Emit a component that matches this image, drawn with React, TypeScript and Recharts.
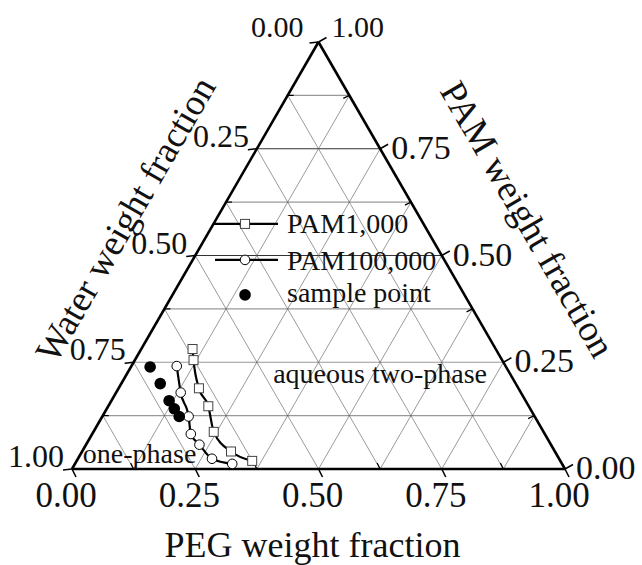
import React from "react";
import {
  ComposedChart,
  Line,
  Scatter,
  XAxis,
  YAxis,
  ReferenceLine,
  ReferenceDot,
} from "recharts";

// binodal data, read as (PEG, PAM) weight fractions; water = 1 - PEG - PAM
const pam1kPeg = [0.104, 0.119, 0.163, 0.203, 0.244, 0.302, 0.356];
const pam1kPam = [0.281, 0.255, 0.189, 0.147, 0.087, 0.041, 0.019];

const pam100kPeg = [0.092, 0.131, 0.175, 0.2, 0.23, 0.272, 0.319];
const pam100kPam = [0.241, 0.179, 0.123, 0.082, 0.057, 0.024, 0.012];

const samplePeg = [0.039, 0.079, 0.117, 0.137, 0.156];
const samplePam = [0.239, 0.2, 0.16, 0.141, 0.123];

const tickValues = [0, 0.25, 0.5, 0.75, 1];
const tickLabels = ["0.00", "0.25", "0.50", "0.75", "1.00"];
const gridValues = [0.125, 0.25, 0.375, 0.5, 0.625, 0.75, 0.875];
const minorValues = [0.125, 0.375, 0.625, 0.875];

const FONT = '"Liberation Serif", "Times New Roman", serif';

// ternary -> cartesian (x across base, y = PAM height)
const toXY = (peg: number, pam: number) => ({ x: peg + pam / 2, y: pam });

const pam1kData = pam1kPeg.map((p, i) => toXY(p, pam1kPam[i]));
const pam100kData = pam100kPeg.map((p, i) => toXY(p, pam100kPam[i]));
const sampleData = samplePeg.map((p, i) => toXY(p, samplePam[i]));

const bottomPt = (v: number) => toXY(v, 0);
const rightPt = (v: number) => toXY(1 - v, v);
const leftPt = (v: number) => toXY(0, 1 - v);

const textShape =
  (text: string, dx: number, dy: number, size: number, anchor: string, rotate?: number) =>
  (props: any) => {
    const x = props.cx + dx;
    const y = props.cy + dy;
    return (
      <text
        x={x}
        y={y}
        fontSize={size}
        fontFamily={FONT}
        textAnchor={anchor}
        fill="#111"
        transform={rotate ? `rotate(${rotate} ${x} ${y})` : undefined}
      >
        {text}
      </text>
    );
  };

const tickShape = (dx: number, dy: number, w = 1.5) => (props: any) => (
  <line
    x1={props.cx}
    y1={props.cy}
    x2={props.cx + dx}
    y2={props.cy + dy}
    stroke="#000"
    strokeWidth={w}
  />
);

const SquareDot = (props: any) => {
  const { cx, cy, index } = props;
  return (
    <rect
      key={`sq-${index}`}
      x={cx - 4.5}
      y={cy - 4.5}
      width={9}
      height={9}
      fill="#fff"
      stroke="#444"
      strokeWidth={1}
    />
  );
};

const CircleDot = (props: any) => {
  const { cx, cy, index } = props;
  return <circle key={`ci-${index}`} cx={cx} cy={cy} r={4.8} fill="#fff" stroke="#000" strokeWidth={1} />;
};

const FilledDot = (props: any) => <circle cx={props.cx} cy={props.cy} r={5.8} fill="#000" />;

const LegendShape = (props: any) => {
  const { cx, cy } = props;
  const t = { fontSize: 28, fontFamily: FONT, fill: "#111" } as const;
  return (
    <g>
      <line x1={cx - 32} y1={cy} x2={cx + 33} y2={cy} stroke="#000" strokeWidth={2.2} />
      <rect x={cx - 4.5} y={cy - 4.5} width={9} height={9} fill="#fff" stroke="#444" />
      <text x={cx + 42} y={cy + 9} {...t}>PAM1,000</text>
      <line x1={cx - 30} y1={cy + 36} x2={cx + 33} y2={cy + 36} stroke="#000" strokeWidth={2.2} />
      <circle cx={cx} cy={cy + 36} r={4.8} fill="#fff" stroke="#000" />
      <text x={cx + 42} y={cy + 46} {...t}>PAM100,000</text>
      <circle cx={cx} cy={cy + 71} r={5.8} fill="#000" />
      <text x={cx + 42} y={cy + 78} {...t}>sample point</text>
    </g>
  );
};

export default function App() {
  return (
    <div style={{ position: "absolute", left: 0, top: 0, width: 642, height: 565, background: "#fff" }}>
      <ComposedChart width={642} height={565} margin={{ top: 42, right: 77, bottom: 96, left: 72 }}>
        <XAxis type="number" dataKey="x" domain={[0, 1]} hide />
        <YAxis type="number" dataKey="y" domain={[0, 1]} hide />

        {/* constant PAM (horizontal) */}
        {gridValues.map((v) => (
          <ReferenceLine
            key={`h-${v}`}
            segment={[toXY(0, v), toXY(1 - v, v)]}
            stroke={v === 0.75 || v === 0.5 ? "#333" : "#999"}
            strokeWidth={v === 0.75 || v === 0.5 ? 1 : 1.2}
            ifOverflow="visible"
          />
        ))}
        {/* constant PEG */}
        {gridValues.map((v) => (
          <ReferenceLine
            key={`p-${v}`}
            segment={[toXY(v, 0), toXY(v, 1 - v)]}
            stroke="#555"
            strokeWidth={0.6}
            ifOverflow="visible"
          />
        ))}
        {/* constant water */}
        {gridValues.map((v) => (
          <ReferenceLine
            key={`w-${v}`}
            segment={[toXY(1 - v, 0), toXY(0, 1 - v)]}
            stroke="#555"
            strokeWidth={0.6}
            ifOverflow="visible"
          />
        ))}

        {/* triangle frame */}
        <ReferenceLine segment={[toXY(0, 0), toXY(1, 0)]} stroke="#000" strokeWidth={2.6} ifOverflow="visible" />
        <ReferenceLine segment={[toXY(1, 0), toXY(0, 1)]} stroke="#000" strokeWidth={2.6} ifOverflow="visible" />
        <ReferenceLine segment={[toXY(0, 1), toXY(0, 0)]} stroke="#000" strokeWidth={2.6} ifOverflow="visible" />

        {/* ticks */}
        {tickValues.map((v) => (
          <ReferenceDot key={`bt-${v}`} {...bottomPt(v)} r={0} ifOverflow="visible" shape={tickShape(4, 8)} />
        ))}
        {tickValues.map((v) => (
          <ReferenceDot key={`rt-${v}`} {...rightPt(v)} r={0} ifOverflow="visible" shape={tickShape(8, -4.5)} />
        ))}
        {tickValues.map((v) => (
          <ReferenceDot key={`lt-${v}`} {...leftPt(v)} r={0} ifOverflow="visible" shape={tickShape(-9, 1)} />
        ))}
        {minorValues.map((v) => (
          <ReferenceDot key={`bm-${v}`} {...bottomPt(v)} r={0} ifOverflow="visible" shape={tickShape(-3, -6, 1.2)} />
        ))}
        {minorValues.map((v) => (
          <ReferenceDot key={`rm-${v}`} {...rightPt(v)} r={0} ifOverflow="visible" shape={tickShape(-6, 3, 1.2)} />
        ))}
        {minorValues.map((v) => (
          <ReferenceDot key={`lm-${v}`} {...leftPt(v)} r={0} ifOverflow="visible" shape={tickShape(6, 0, 1.2)} />
        ))}

        {/* tick labels */}
        {tickValues.map((v, i) => (
          <ReferenceDot
            key={`bl-${v}`}
            {...bottomPt(v)}
            r={0}
            ifOverflow="visible"
            shape={textShape(tickLabels[i], -6, 38, 35, "middle")}
          />
        ))}
        {tickValues.map((v, i) => (
          <ReferenceDot
            key={`rl-${v}`}
            {...rightPt(v)}
            r={0}
            ifOverflow="visible"
            shape={v === 1 ? textShape(tickLabels[i], 13, -5, 30, "start") : textShape(tickLabels[i], 11, 10, 34, "start")}
          />
        ))}
        {tickValues.map((v, i) => (
          <ReferenceDot
            key={`ll-${v}`}
            {...leftPt(v)}
            r={0}
            ifOverflow="visible"
            shape={v === 0 ? textShape(tickLabels[i], -15, -5, 30, "end") : textShape(tickLabels[i], -8, -2, 32, "end")}
          />
        ))}

        {/* axis titles */}
        <ReferenceDot {...bottomPt(0.5)} r={0} ifOverflow="visible" shape={textShape("PEG weight fraction", -6, 88, 36, "middle")} />
        <ReferenceDot {...leftPt(0.5)} r={0} ifOverflow="visible" shape={textShape("Water weight fraction", -59, -30, 37, "middle", -60)} />
        <ReferenceDot {...rightPt(0.5)} r={0} ifOverflow="visible" shape={textShape("PAM weight fraction", 75, -30, 37, "middle", 60)} />

        {/* region labels */}
        <ReferenceDot x={0.408} y={0.201} r={0} ifOverflow="visible" shape={textShape("aqueous two-phase", 0, 0, 28, "start")} />
        <ReferenceDot x={0.022} y={0.014} r={0} ifOverflow="visible" shape={textShape("one-phase", 0, 0, 28, "start")} />

        <Line
          data={pam1kData}
          dataKey="y"
          type="monotone"
          stroke="#000"
          strokeWidth={2.2}
          dot={SquareDot}
          activeDot={false}
          isAnimationActive={false}
        />
        <Line
          data={pam100kData}
          dataKey="y"
          type="monotone"
          stroke="#000"
          strokeWidth={2.2}
          dot={CircleDot}
          activeDot={false}
          isAnimationActive={false}
        />
        <Scatter data={sampleData} dataKey="y" shape={FilledDot} isAnimationActive={false} />

        {/* legend */}
        <ReferenceDot x={0.351} y={0.574} r={0} ifOverflow="visible" shape={LegendShape} />
      </ComposedChart>
    </div>
  );
}
